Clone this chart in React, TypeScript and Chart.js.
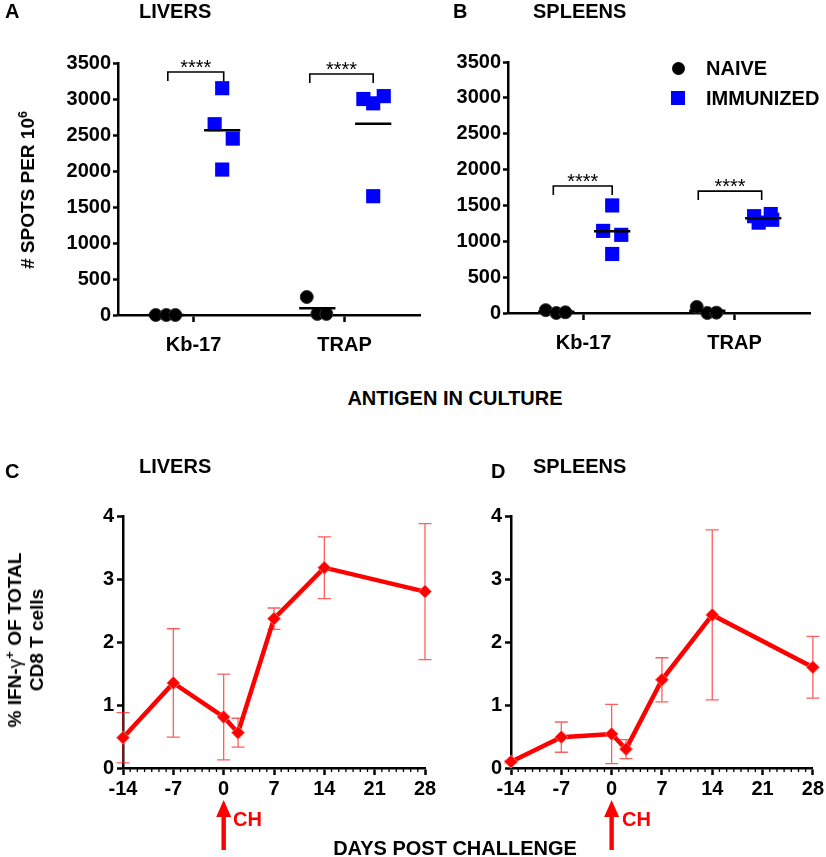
'use client';

import { useEffect, useRef } from 'react';
import { Chart, registerables } from 'chart.js';

Chart.register(...registerables);

const FONT = "'Liberation Sans', Arial, Helvetica, sans-serif";
const BLUE = '#0000ff';
const RED = '#ff0000';

// ---- A / B: ELISPOT, spots per 10^6 cells
const antigens = ['Kb-17', 'TRAP'];
const liverNaive = [
  [0, 0, 0],
  [250, 15, 15],
];
const liverImmunized = [
  [3150, 2650, 2450, 2020],
  [3000, 2940, 3040, 1650],
];
const spleenNaive = [
  [40, 0, 10],
  [85, 0, 5],
];
const spleenImmunized = [
  [1500, 1145, 1090, 823],
  [1350, 1260, 1380, 1300],
];
const spotTicks = [0, 500, 1000, 1500, 2000, 2500, 3000, 3500];
// bracket heights (spots) and labels for NAIVE vs IMMUNIZED
const liverSigLevels = [3375, 3347];
const spleenSigLevels = [1771, 1700];
const sigLabels = ['****', '****'];

// ---- C / D: % IFN-gamma+ of CD8 T cells
const days = [-14, -7, 0, 2, 7, 14, 28];
const dayTicks = [-14, -7, 0, 7, 14, 21, 28];
const liverPct = [0.48, 1.35, 0.81, 0.56, 2.37, 3.18, 2.8];
const liverPctErr = [0.4, 0.86, 0.68, 0.23, 0.17, 0.49, 1.08];
const spleenPct = [0.1, 0.49, 0.54, 0.3, 1.4, 2.43, 1.6];
const spleenPctErr = [0.02, 0.24, 0.47, 0.15, 0.35, 1.35, 0.49];
const pctTicks = [0, 1, 2, 3, 4];
const challengeDay = 0;

// horizontal scatter inside a category (category units)
const naiveJitter = [-0.25, -0.18, -0.12];
const liverImmJitter = [
  [0.19, 0.14, 0.26, 0.19],
  [0.125, 0.19, 0.26, 0.19],
];
const spleenImmJitter = [
  [0.19, 0.13, 0.25, 0.19],
  [0.13, 0.16, 0.24, 0.25],
];
const liverBracketSpan = [
  [-0.17, 0.2],
  [-0.23, 0.19],
];
const spleenBracketSpan = [
  [-0.2, 0.19],
  [-0.24, 0.18],
];
const naiveCenter = -0.18;
const immCenter = 0.19;
const meanHalf = 0.12;

const mean = (a: number[]) => a.reduce((s, v) => s + v, 0) / a.length;

const tickFont = { family: FONT, size: 20, weight: 'bold' as const };

function axis(tickLength: number) {
  return {
    border: { display: true, color: '#000', width: 2.5 },
    grid: { drawOnChartArea: false, drawTicks: true, tickLength, tickWidth: 2.5, tickColor: '#000' },
  };
}

const sigPlugin = (levels: number[], spans: number[][]) => ({
  id: 'sigBrackets',
  afterDatasetsDraw(chart: any) {
    const { ctx, scales } = chart;
    ctx.save();
    ctx.strokeStyle = '#000';
    ctx.lineWidth = 1.6;
    ctx.fillStyle = '#000';
    ctx.font = `20px ${FONT}`;
    ctx.textAlign = 'center';
    ctx.textBaseline = 'alphabetic';
    levels.forEach((lvl, i) => {
      const x0 = scales.x.getPixelForValue(i + 1 + spans[i][0]);
      const x1 = scales.x.getPixelForValue(i + 1 + spans[i][1]);
      const y = scales.y.getPixelForValue(lvl);
      ctx.beginPath();
      ctx.moveTo(x0, y + 9);
      ctx.lineTo(x0, y);
      ctx.lineTo(x1, y);
      ctx.lineTo(x1, y + 9);
      ctx.stroke();
      ctx.fillText(sigLabels[i], (x0 + x1) / 2, y + 2);
    });
    ctx.restore();
  },
});

function spotsConfig(
  naive: number[][],
  imm: number[][],
  immJitter: number[][],
  levels: number[],
  spans: number[][],
  box: { yw: number; xh: number; top: number; right: number }
): any {
  const meanLines: any[] = [];
  antigens.forEach((_, i) => {
    [
      [naiveCenter, mean(naive[i])],
      [immCenter, mean(imm[i])],
    ].forEach(([c, m]) => {
      meanLines.push({
        type: 'line',
        data: [
          { x: i + 1 + c - meanHalf, y: m },
          { x: i + 1 + c + meanHalf, y: m },
        ],
        borderColor: '#000',
        borderWidth: 2.5,
        pointRadius: 0,
        clip: false,
        order: 0,
      });
    });
  });
  return {
    type: 'scatter',
    data: {
      datasets: [
        ...meanLines,
        {
          label: 'NAIVE',
          data: naive.flatMap((vals, i) => vals.map((v, j) => ({ x: i + 1 + naiveJitter[j], y: v }))),
          pointStyle: 'circle',
          pointRadius: 6.5,
          backgroundColor: '#000',
          borderColor: '#333',
          borderWidth: 1,
          clip: false,
          order: 1,
        },
        {
          label: 'IMMUNIZED',
          data: imm.flatMap((vals, i) => vals.map((v, j) => ({ x: i + 1 + immJitter[i][j], y: v }))),
          pointStyle: 'rect',
          pointRadius: 10,
          backgroundColor: BLUE,
          borderColor: BLUE,
          borderWidth: 0,
          clip: false,
          order: 1,
        },
      ],
    },
    options: {
      responsive: false,
      animation: false,
      events: [],
      layout: { padding: { top: box.top, right: box.right, left: 0, bottom: 0 } },
      plugins: { legend: { display: false }, tooltip: { enabled: false } },
      scales: {
        x: {
          type: 'linear',
          min: 0.5,
          max: 2.5,
          ...axis(7),
          afterBuildTicks: (s: any) => {
            s.ticks = antigens.map((_, i) => ({ value: i + 1 }));
          },
          afterFit: (s: any) => {
            s.height = box.xh;
          },
          ticks: {
            font: tickFont,
            color: '#000',
            padding: 11,
            maxRotation: 0,
            callback: (v: any) => antigens[Number(v) - 1] ?? '',
          },
        },
        y: {
          min: 0,
          max: 3500,
          ...axis(5),
          afterBuildTicks: (s: any) => {
            s.ticks = spotTicks.map((v) => ({ value: v }));
          },
          afterFit: (s: any) => {
            s.width = box.yw;
          },
          ticks: { font: tickFont, color: '#000', padding: 2, callback: (v: any) => String(v) },
        },
      },
    },
    plugins: [sigPlugin(levels, spans)],
  };
}

const errorBarPlugin = (errs: number[]) => ({
  id: 'errorBars',
  beforeDatasetsDraw(chart: any) {
    const { ctx, scales } = chart;
    const pts = chart.data.datasets[0].data;
    ctx.save();
    ctx.strokeStyle = 'rgba(255,40,40,0.75)';
    ctx.lineWidth = 1.3;
    pts.forEach((p: any, i: number) => {
      const x = scales.x.getPixelForValue(p.x);
      const yt = scales.y.getPixelForValue(p.y + errs[i]);
      const yb = scales.y.getPixelForValue(p.y - errs[i]);
      ctx.beginPath();
      ctx.moveTo(x, yt);
      ctx.lineTo(x, yb);
      ctx.moveTo(x - 6.5, yt);
      ctx.lineTo(x + 6.5, yt);
      ctx.moveTo(x - 6.5, yb);
      ctx.lineTo(x + 6.5, yb);
      ctx.stroke();
    });
    ctx.restore();
  },
});

const dayAxisPlugin = {
  id: 'dayAxis',
  afterDraw(chart: any) {
    const { ctx, scales, chartArea } = chart;
    const xs = scales.x;
    ctx.save();
    // minor ticks, one per day
    ctx.strokeStyle = '#000';
    ctx.lineWidth = 1.3;
    for (let d = xs.min; d <= xs.max; d++) {
      if (d % 7 === 0) continue;
      const x = xs.getPixelForValue(d);
      ctx.beginPath();
      ctx.moveTo(x, chartArea.bottom + 1);
      ctx.lineTo(x, chartArea.bottom + 4);
      ctx.stroke();
    }
    // challenge arrow
    const ax = xs.getPixelForValue(challengeDay);
    const tip = chartArea.bottom + 32;
    ctx.fillStyle = RED;
    ctx.beginPath();
    ctx.moveTo(ax, tip);
    ctx.lineTo(ax + 7.5, tip + 17);
    ctx.lineTo(ax - 7.5, tip + 17);
    ctx.closePath();
    ctx.fill();
    ctx.fillRect(ax - 2.2, tip + 15, 4.4, 50 - 15);
    ctx.restore();
  },
};

function pctConfig(values: number[], errs: number[], box: { yw: number; xh: number; top: number; right: number }): any {
  return {
    type: 'line',
    data: {
      datasets: [
        {
          data: days.map((d, i) => ({ x: d, y: values[i] })),
          borderColor: RED,
          borderWidth: 4.5,
          pointStyle: 'rectRot',
          pointRadius: 6.5,
          pointBackgroundColor: RED,
          pointBorderColor: 'rgba(255,110,110,0.9)',
          pointBorderWidth: 1,
          clip: false,
        },
      ],
    },
    options: {
      responsive: false,
      animation: false,
      events: [],
      layout: { padding: { top: box.top, right: box.right, left: 0, bottom: 0 } },
      plugins: { legend: { display: false }, tooltip: { enabled: false } },
      scales: {
        x: {
          type: 'linear',
          min: -14,
          max: 28,
          ...axis(7),
          afterBuildTicks: (s: any) => {
            s.ticks = dayTicks.map((v) => ({ value: v }));
          },
          afterFit: (s: any) => {
            s.height = box.xh;
          },
          ticks: { font: tickFont, color: '#000', padding: 2, maxRotation: 0 },
        },
        y: {
          min: 0,
          max: 4,
          ...axis(6),
          afterBuildTicks: (s: any) => {
            s.ticks = pctTicks.map((v) => ({ value: v }));
          },
          afterFit: (s: any) => {
            s.width = box.yw;
          },
          ticks: { font: tickFont, color: '#000', padding: 3 },
        },
      },
    },
    plugins: [errorBarPlugin(errs), dayAxisPlugin],
  };
}

function ChartCanvas({ make, left, top, width, height }: { make: () => any; left: number; top: number; width: number; height: number }) {
  const ref = useRef<HTMLCanvasElement>(null);

  useEffect(() => {
    if (!ref.current) return;
    const chart = new Chart(ref.current, make());
    return () => chart.destroy();
  }, []);

  return (
    <canvas ref={ref} width={width} height={height} style={{ position: 'absolute', left, top, width, height }} />
  );
}

function Text({
  x,
  y,
  children,
  size = 20,
  color = '#000',
  center = false,
  rotate = false,
  weight = 'bold',
}: any) {
  let transform = 'translateY(-50%)';
  if (center) transform = 'translate(-50%, -50%)';
  if (rotate) transform = 'translate(-50%, -50%) rotate(-90deg)';
  return (
    <div
      style={{
        position: 'absolute',
        left: x,
        top: y,
        transform,
        font: `${weight} ${size}px ${FONT}`,
        lineHeight: `${size + 3}px`,
        whiteSpace: 'nowrap',
        textAlign: 'center',
        color,
      }}
    >
      {children}
    </div>
  );
}

export default function App() {
  return (
    <div style={{ position: 'absolute', left: 0, top: 0, width: 826, height: 857, background: '#fff', overflow: 'hidden' }}>
      <ChartCanvas
        left={0}
        top={0}
        width={430}
        height={360}
        make={() =>
          spotsConfig(liverNaive, liverImmunized, liverImmJitter, liverSigLevels, liverBracketSpan, {
            yw: 118,
            xh: 45,
            top: 63,
            right: 7,
          })
        }
      />
      <ChartCanvas
        left={420}
        top={0}
        width={406}
        height={360}
        make={() =>
          spotsConfig(spleenNaive, spleenImmunized, spleenImmJitter, spleenSigLevels, spleenBracketSpan, {
            yw: 88,
            xh: 47,
            top: 62,
            right: 16,
          })
        }
      />
      <ChartCanvas
        left={0}
        top={420}
        width={440}
        height={437}
        make={() => pctConfig(liverPct, liverPctErr, { yw: 123, xh: 89, top: 96, right: 15 })}
      />
      <ChartCanvas
        left={420}
        top={420}
        width={406}
        height={437}
        make={() => pctConfig(spleenPct, spleenPctErr, { yw: 91, xh: 89, top: 96, right: 13 })}
      />

      <Text x={5} y={11}>A</Text>
      <Text x={139} y={11}>LIVERS</Text>
      <Text x={453} y={11}>B</Text>
      <Text x={533} y={11}>SPLEENS</Text>
      <Text x={5} y={471}>C</Text>
      <Text x={139} y={466}>LIVERS</Text>
      <Text x={491} y={471}>D</Text>
      <Text x={533} y={466}>SPLEENS</Text>

      <Text x={28} y={190} size={19} rotate>
        # SPOTS PER 10<sup style={{ fontSize: '0.65em', lineHeight: 0 }}>6</sup>
      </Text>
      <Text x={26} y={640} size={19} rotate>
        % IFN-<span style={{ fontWeight: 'normal' }}>γ</span>
        <sup style={{ fontSize: '0.7em', lineHeight: 0 }}>+</sup> OF TOTAL
        <br />
        CD8 T cells
      </Text>

      <Text x={455} y={398} center>ANTIGEN IN CULTURE</Text>
      <Text x={455} y={848} center>DAYS POST CHALLENGE</Text>

      <div style={{ position: 'absolute', left: 671.5, top: 61.5, width: 13, height: 13, borderRadius: '50%', background: '#000' }} />
      <Text x={706} y={68}>NAIVE</Text>
      <div style={{ position: 'absolute', left: 671, top: 91, width: 14, height: 14, background: BLUE }} />
      <Text x={706} y={98}>IMMUNIZED</Text>

      <Text x={233} y={819} color={RED}>CH</Text>
      <Text x={622} y={819} color={RED}>CH</Text>
    </div>
  );
}
